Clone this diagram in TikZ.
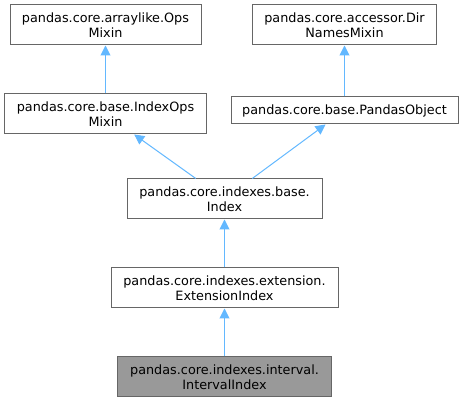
\documentclass[tikz,border=0pt]{standalone}
\usepackage{fontspec}
\setmainfont{DejaVu Sans}
\usetikzlibrary{arrows.meta, positioning}
\definecolor{edgeblue}{RGB}{99,184,255}
\definecolor{boxgray}{RGB}{102,102,102}
\definecolor{nodegray}{RGB}{153,153,153}

\begin{document}
\begin{tikzpicture}[x=1pt, y=-1pt, line width=1pt,
 font=\fontsize{12.8}{15}\selectfont]
 \tikzstyle{block} = [rectangle, draw=boxgray, fill=white, align=center, inner sep=0pt, minimum height=40pt]
 \tikzstyle{inherit} = [draw=edgeblue, -{Triangle[length=10pt,width=10pt,fill=edgeblue]}]
 \useasboundingbox (0,0) rectangle (464,403);
   \node[block, fill=nodegray, minimum width=214pt] (ivl) at (224.5,377) {pandas.core.indexes.interval.\\IntervalIndex};
   \node[block, minimum width=227pt] (ext) [above=48pt of ivl] {pandas.core.indexes.extension.\\ExtensionIndex};
   \node[block, minimum width=195pt] (idx) [above=48pt of ext] {pandas.core.indexes.base.\\Index};
   \node[block, minimum width=202pt] (iom) at (105.5,114) {pandas.core.base.IndexOps\\Mixin};
   \node[block, minimum width=227pt, minimum height=27pt] (po) at (344.5,110.5) {pandas.core.base.PandasObject};
   \node[block, minimum width=191pt] (ops) [above=48pt of iom] {pandas.core.arraylike.Ops\\Mixin};
   \node[block, minimum width=184pt] (dnm) at (344.5,25) {pandas.core.accessor.Dir\\NamesMixin};

 \path[inherit]
	(ivl) edge (ext)
	(ext) edge (idx)
	(idx) edge (iom)
	     edge (po)
	(iom) edge (ops)
	(po) edge (dnm);
\end{tikzpicture}
\end{document}
